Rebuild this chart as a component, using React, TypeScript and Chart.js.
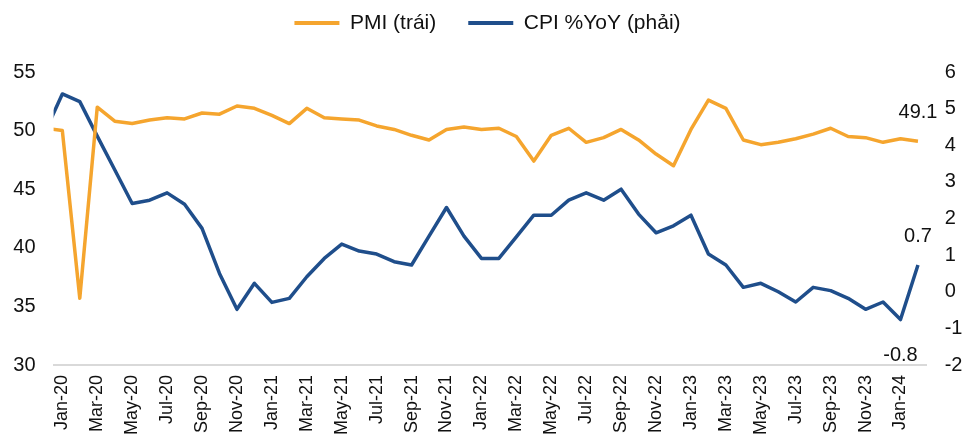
import { useEffect, useRef } from 'react';
import { Chart, registerables } from 'chart.js';

Chart.register(...registerables);

// First entry (Dec-19) only supplies the short lead-in segment at the left edge of the plot.
const months = [
  'Dec-19',
  'Jan-20', 'Feb-20', 'Mar-20', 'Apr-20', 'May-20', 'Jun-20', 'Jul-20', 'Aug-20', 'Sep-20', 'Oct-20', 'Nov-20', 'Dec-20',
  'Jan-21', 'Feb-21', 'Mar-21', 'Apr-21', 'May-21', 'Jun-21', 'Jul-21', 'Aug-21', 'Sep-21', 'Oct-21', 'Nov-21', 'Dec-21',
  'Jan-22', 'Feb-22', 'Mar-22', 'Apr-22', 'May-22', 'Jun-22', 'Jul-22', 'Aug-22', 'Sep-22', 'Oct-22', 'Nov-22', 'Dec-22',
  'Jan-23', 'Feb-23', 'Mar-23', 'Apr-23', 'May-23', 'Jun-23', 'Jul-23', 'Aug-23', 'Sep-23', 'Oct-23', 'Nov-23', 'Dec-23',
  'Jan-24', 'Feb-24',
];

const pmi = [
  50.2,
  50.0, 35.7, 52.0, 50.8, 50.6, 50.9, 51.1, 51.0, 51.5, 51.4, 52.1, 51.9,
  51.3, 50.6, 51.9, 51.1, 51.0, 50.9, 50.4, 50.1, 49.6, 49.2, 50.1, 50.3,
  50.1, 50.2, 49.5, 47.4, 49.6, 50.2, 49.0, 49.4, 50.1, 49.2, 48.0, 47.0,
  50.1, 52.6, 51.9, 49.2, 48.8, 49.0, 49.3, 49.7, 50.2, 49.5, 49.4, 49.0,
  49.3, 49.1,
];

const cpi = [
  4.35,
  5.40, 5.19, 4.25, 3.33, 2.41, 2.50, 2.70, 2.39, 1.73, 0.50, -0.48, 0.23,
  -0.29, -0.18, 0.41, 0.91, 1.30, 1.11, 1.03, 0.82, 0.73, 1.52, 2.30, 1.52,
  0.91, 0.91, 1.50, 2.09, 2.09, 2.50, 2.70, 2.50, 2.80, 2.12, 1.61, 1.80,
  2.09, 1.03, 0.73, 0.12, 0.23, 0.00, -0.28, 0.12, 0.03, -0.18, -0.48, -0.28,
  -0.76, 0.73,
];

const tickMonths = [
  'Jan-20', 'Mar-20', 'May-20', 'Jul-20', 'Sep-20', 'Nov-20',
  'Jan-21', 'Mar-21', 'May-21', 'Jul-21', 'Sep-21', 'Nov-21',
  'Jan-22', 'Mar-22', 'May-22', 'Jul-22', 'Sep-22', 'Nov-22',
  'Jan-23', 'Mar-23', 'May-23', 'Jul-23', 'Sep-23', 'Nov-23',
  'Jan-24',
];

const pmiTicks = [30, 35, 40, 45, 50, 55];
const cpiTicks = [-2, -1, 0, 1, 2, 3, 4, 5, 6];

// value labels: [dataset index, point index in months, vertical offset]
const valueLabels: [number, number, number][] = [
  [0, 50, -29],
  [1, 50, -29],
  [1, 49, 36],
];

const ORANGE = '#F5A52E';
const BLUE = '#1F4E8B';
const TEXT = '#111111';
const FONT = "'Liberation Sans', Arial, sans-serif";

export default function App() {
  const ref = useRef<HTMLCanvasElement | null>(null);

  useEffect(() => {
    if (!ref.current) return;
    const xIndex = (i: number) => i - 1;

    const legendPlugin = {
      id: 'legendTweak',
      beforeInit(chart: any) {
        const lg = chart.legend;
        if (!lg) return;
        const orig = lg.fit;
        lg.fit = function () {
          orig.call(lg);
          lg.height = 72;
        };
      },
      afterLayout(chart: any) {
        const lg = chart.legend;
        if (!lg) return;
        lg.left += 5;
        lg.right += 5;
        lg.top = 12.5 - 32;
      },
    };

    const labelPlugin = {
      id: 'valueLabels',
      afterDatasetsDraw(chart: any) {
        const ctx = chart.ctx;
        ctx.save();
        ctx.font = `20px ${FONT}`;
        ctx.fillStyle = TEXT;
        ctx.textAlign = 'center';
        ctx.textBaseline = 'middle';
        valueLabels.forEach(([ds, idx, off]) => {
          const pt = chart.getDatasetMeta(ds).data[idx];
          const v = (ds === 0 ? pmi : cpi)[idx];
          ctx.fillText(v.toFixed(1), pt.x, pt.y + off);
        });
        ctx.restore();
      },
    };

    const chart = new Chart(ref.current, {
      type: 'line',
      data: {
        datasets: [
          {
            label: 'PMI (trái)',
            data: pmi.map((v, i) => ({ x: xIndex(i), y: v })),
            borderColor: ORANGE,
            backgroundColor: ORANGE,
            borderWidth: 3.5,
            pointRadius: 0,
            tension: 0,
            borderJoinStyle: 'round',
            yAxisID: 'y',
          },
          {
            label: 'CPI %YoY (phải)',
            data: cpi.map((v, i) => ({ x: xIndex(i), y: v })),
            borderColor: BLUE,
            backgroundColor: BLUE,
            borderWidth: 3.5,
            pointRadius: 0,
            tension: 0,
            borderJoinStyle: 'round',
            yAxisID: 'y1',
          },
        ],
      },
      options: {
        responsive: false,
        animation: false,
        events: [],
        layout: { padding: 0 },
        plugins: {
          legend: {
            display: true,
            position: 'top',
            labels: {
              boxWidth: 45,
              boxHeight: 4,
              padding: 32,
              color: TEXT,
              font: { size: 21, family: FONT },
              generateLabels: (c: any) =>
                Chart.defaults.plugins.legend.labels
                  .generateLabels(c)
                  .map((l: any) => ({ ...l, lineWidth: 0 })),
            },
          },
          tooltip: { enabled: false },
        },
        scales: {
          x: {
            type: 'linear',
            min: -0.5,
            max: 49.5,
            grid: { display: false, drawTicks: false },
            border: { display: true, color: '#D9D9D9', width: 2 },
            afterBuildTicks: (axis: any) => {
              axis.ticks = tickMonths.map((m) => ({ value: xIndex(months.indexOf(m)) }));
            },
            ticks: {
              autoSkip: false,
              minRotation: 90,
              maxRotation: 90,
              padding: 10,
              color: TEXT,
              font: { size: 18, family: FONT },
              callback: (value: any) => months[Number(value) + 1],
            },
            afterFit: (axis: any) => {
              axis.height = 80;
            },
          },
          y: {
            position: 'left',
            min: pmiTicks[0],
            max: pmiTicks[pmiTicks.length - 1],
            grid: { display: false, drawTicks: false },
            border: { display: false },
            afterBuildTicks: (axis: any) => {
              axis.ticks = pmiTicks.map((v) => ({ value: v }));
            },
            ticks: {
              padding: 18,
              color: TEXT,
              font: { size: 20, family: FONT },
            },
            afterFit: (axis: any) => {
              axis.width = 53.6;
            },
          },
          y1: {
            position: 'right',
            min: cpiTicks[0],
            max: cpiTicks[cpiTicks.length - 1],
            grid: { display: false, drawTicks: false },
            border: { display: false },
            afterBuildTicks: (axis: any) => {
              axis.ticks = cpiTicks.map((v) => ({ value: v }));
            },
            ticks: {
              padding: 18,
              color: TEXT,
              font: { size: 20, family: FONT },
            },
            afterFit: (axis: any) => {
              axis.width = 38.3;
            },
          },
        },
      },
      plugins: [legendPlugin, labelPlugin],
    } as any);

    return () => chart.destroy();
  }, []);

  return (
    <div style={{ position: 'fixed', left: 0, top: 0, width: 965, height: 445, background: '#fff' }}>
      <canvas ref={ref} width={965} height={445} style={{ display: 'block', width: 965, height: 445 }} />
    </div>
  );
}
